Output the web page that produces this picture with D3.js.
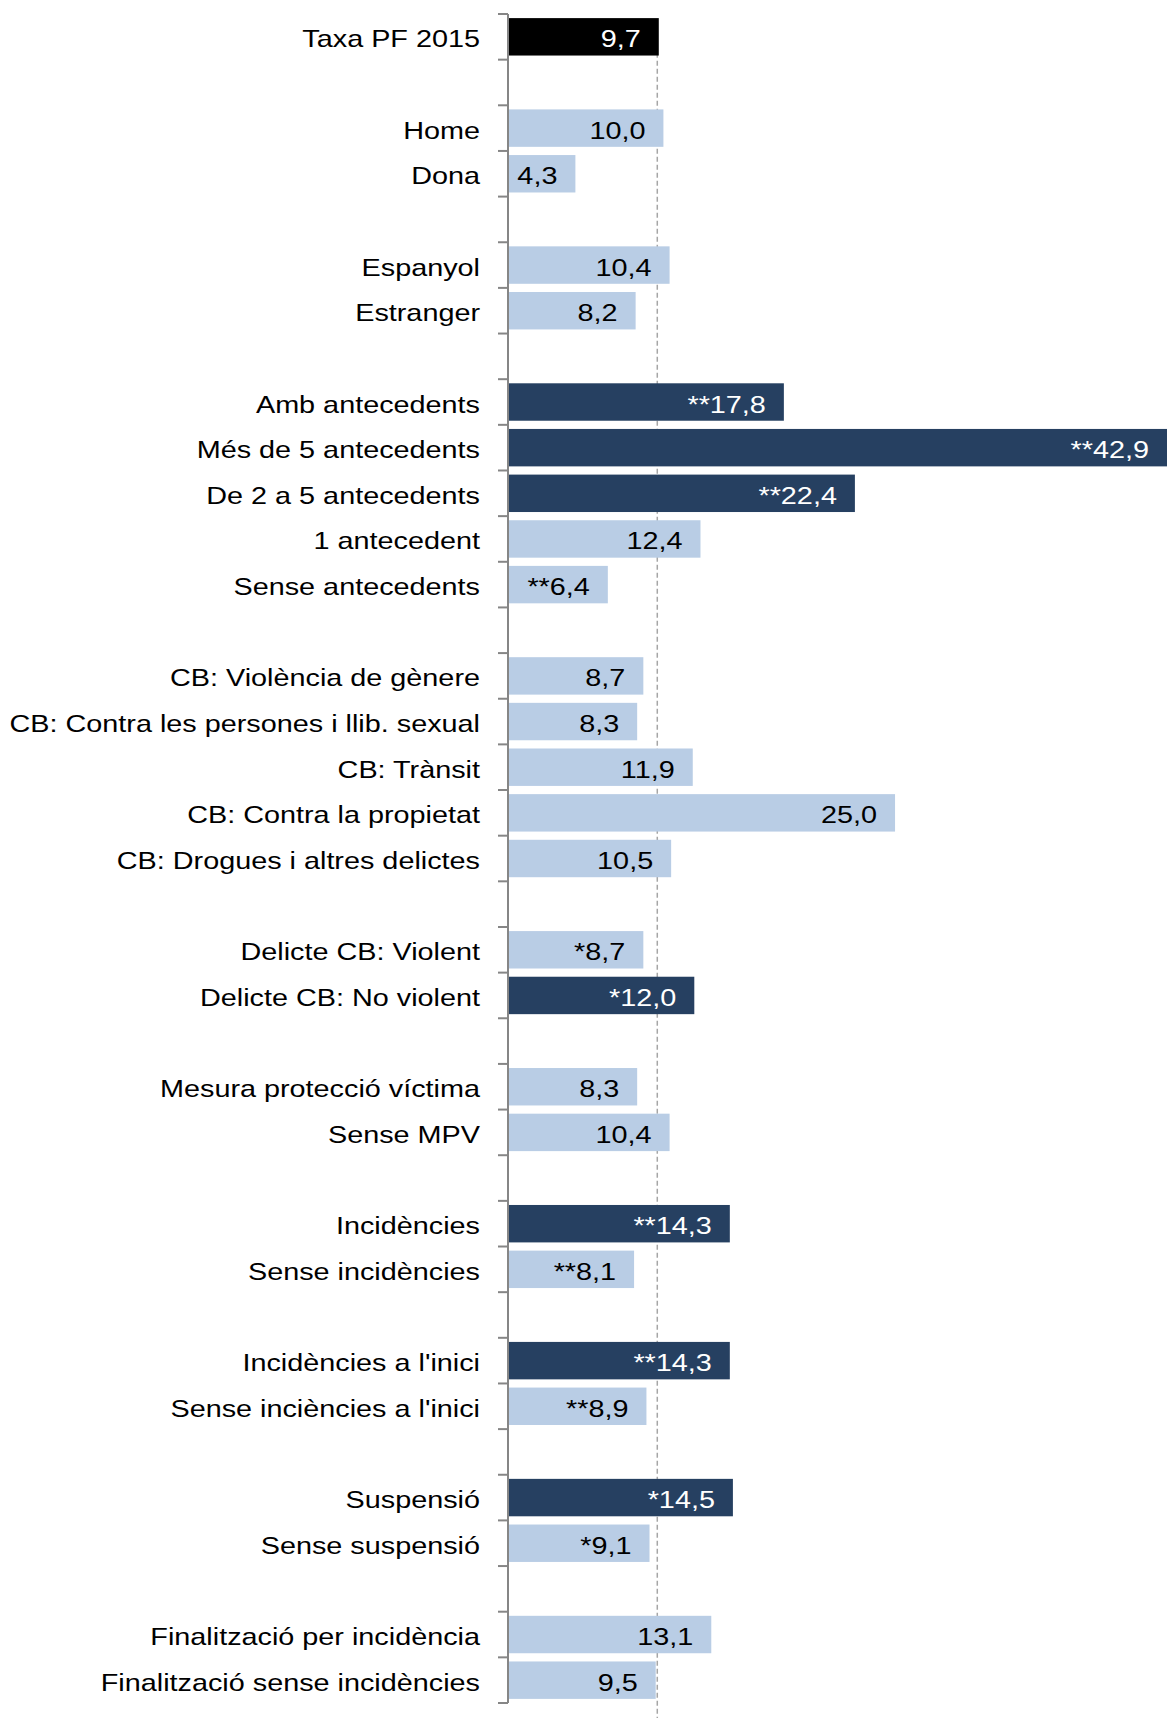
<!DOCTYPE html>
<html>
<head>
<meta charset="utf-8">
<script src="https://cdn.jsdelivr.net/npm/d3@7"></script>
<style>
  body { margin: 0; background: #fff; }
  text { font-family: "Liberation Sans", Arial, sans-serif; }
</style>
</head>
<body>
<div id="chart"></div>
<script>
// rows of the chart, "" = empty gap row
const categories = [
  "Taxa PF 2015", "",
  "Home", "Dona", "",
  "Espanyol", "Estranger", "",
  "Amb antecedents", "Més de 5 antecedents", "De 2 a 5 antecedents", "1 antecedent", "Sense antecedents", "",
  "CB: Violència de gènere", "CB: Contra les persones i llib. sexual", "CB: Trànsit", "CB: Contra la propietat", "CB: Drogues i altres delictes", "",
  "Delicte CB: Violent", "Delicte CB: No violent", "",
  "Mesura protecció víctima", "Sense MPV", "",
  "Incidències", "Sense incidències", "",
  "Incidències a l'inici", "Sense inciències a l'inici", "",
  "Suspensió", "Sense suspensió", "",
  "Finalització per incidència", "Finalització sense incidències"
];

const values = [
  9.7, null,
  10.0, 4.3, null,
  10.4, 8.2, null,
  17.8, 42.9, 22.4, 12.4, 6.4, null,
  8.7, 8.3, 11.9, 25.0, 10.5, null,
  8.7, 12.0, null,
  8.3, 10.4, null,
  14.3, 8.1, null,
  14.3, 8.9, null,
  14.5, 9.1, null,
  13.1, 9.5
];

// significance marks put before the value
const marks = [
  "", "",
  "", "", "",
  "", "", "",
  "**", "**", "**", "", "**", "",
  "", "", "", "", "", "",
  "*", "*", "",
  "", "", "",
  "**", "**", "",
  "**", "**", "",
  "*", "*", "",
  "", ""
];

// bar kind: t = total, d = dark (above), l = light
const kinds = [
  "t", "",
  "l", "l", "",
  "l", "l", "",
  "d", "d", "d", "l", "l", "",
  "l", "l", "l", "l", "l", "",
  "l", "d", "",
  "l", "l", "",
  "d", "l", "",
  "d", "l", "",
  "d", "l", "",
  "l", "l"
];

const totalRate = 9.7;

const W = 1167, H = 1718;
const fill = { t: "#000000", d: "#264061", l: "#b9cde5" };
const textFill = { t: "#ffffff", d: "#ffffff", l: "#000000" };
const stretch = 1.2; // text in the original is drawn wide

const svg = d3.select("#chart").append("svg")
  .attr("width", W).attr("height", H);

const rows = d3.range(categories.length);

const y = d3.scaleBand()
  .domain(rows)
  .range([14, 1703])
  .paddingInner(0.18)
  .paddingOuter(0.09);

// longest bar runs past the right edge
const x = d3.scaleLinear().domain([0, 43]).range([509, 1173]);

const step = y.step();
const edge = i => y(i) - step * 0.09; // band boundary above row i

// dashed reference line at the total rate
svg.append("line")
  .attr("x1", x(totalRate) - 1.5).attr("x2", x(totalRate) - 1.5)
  .attr("y1", y(0) + y.bandwidth() / 2).attr("y2", H)
  .attr("stroke", "#a6a6a6")
  .attr("stroke-width", 1.5)
  .attr("stroke-dasharray", "5,3");

const data = rows.filter(i => values[i] != null);

svg.selectAll("rect.bar").data(data).enter()
  .append("rect")
  .attr("class", "bar")
  .attr("x", x(0))
  .attr("y", i => y(i))
  .attr("width", i => x(values[i]) - x(0))
  .attr("height", y.bandwidth())
  .attr("fill", i => fill[kinds[i]]);

// value labels, inside end
svg.selectAll("text.val").data(data).enter()
  .append("text")
  .attr("class", "val")
  .attr("transform", i => `translate(${Math.min(x(values[i]), W) - 18},${y(i) + y.bandwidth() / 2 + 10.5}) scale(${stretch},1)`)
  .attr("text-anchor", "end")
  .attr("font-size", 24)
  .attr("fill", i => textFill[kinds[i]])
  .text(i => marks[i] + values[i].toFixed(1).replace(".", ","));

// category labels
svg.selectAll("text.cat").data(data).enter()
  .append("text")
  .attr("class", "cat")
  .attr("transform", i => `translate(480,${y(i) + y.bandwidth() / 2 + 10.5}) scale(${stretch},1)`)
  .attr("text-anchor", "end")
  .attr("font-size", 24)
  .attr("fill", "#000")
  .text(i => categories[i]);

// axis line with ticks at the band boundaries
const axis = svg.append("g").attr("stroke", "#868686").attr("stroke-width", 2);
axis.append("line")
  .attr("x1", 508).attr("x2", 508)
  .attr("y1", edge(0)).attr("y2", edge(0) + step * rows.length);
axis.selectAll("line.tick").data(d3.range(rows.length + 1)).enter()
  .append("line")
  .attr("class", "tick")
  .attr("x1", 498).attr("x2", 508)
  .attr("y1", i => edge(0) + step * i)
  .attr("y2", i => edge(0) + step * i);
</script>
</body>
</html>
